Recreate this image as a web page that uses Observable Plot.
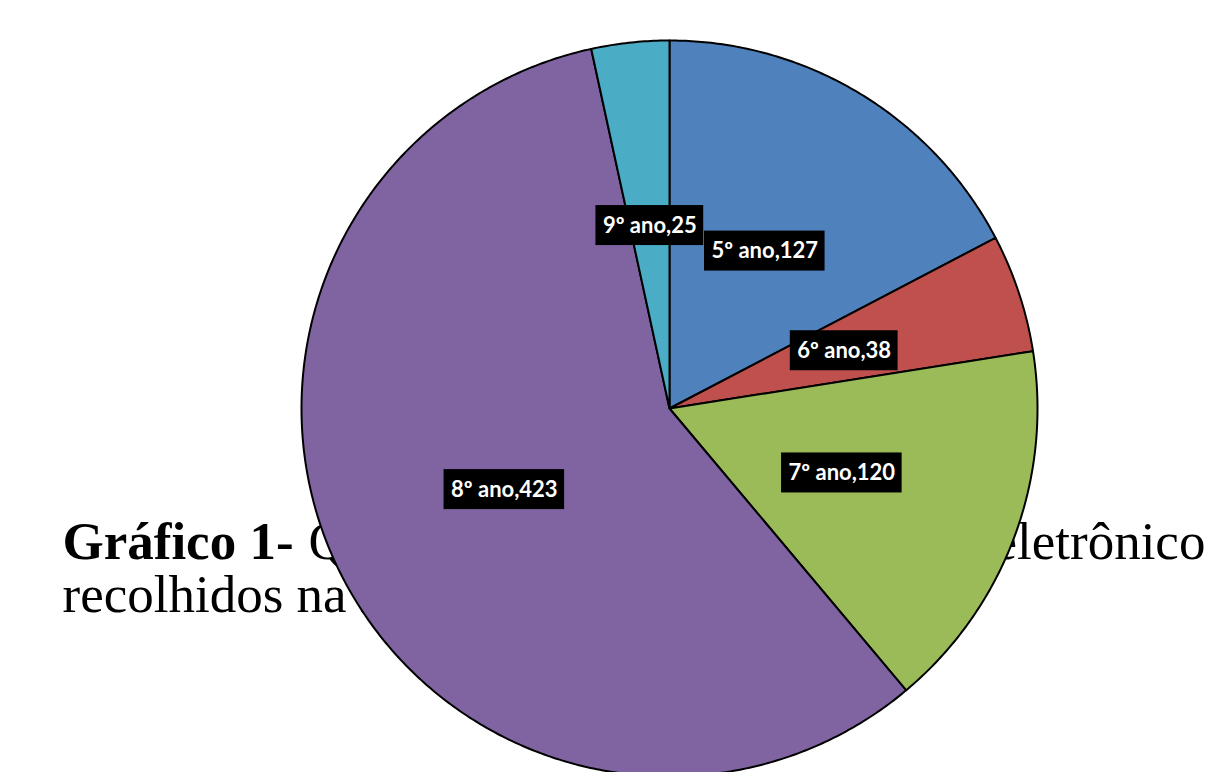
<!DOCTYPE html>
<html>
<head>
<meta charset="utf-8">
<script src="https://cdn.jsdelivr.net/npm/d3@7"></script>
<script src="https://cdn.jsdelivr.net/npm/@observablehq/plot@0.6"></script>
<style>
  html, body { margin: 0; padding: 0; background: #fff; overflow: hidden; }
  #chart svg { display: block; }
</style>
</head>
<body>
<div id="chart"></div>
<script>
// ---- data ----
const grades = ["5º ano", "6º ano", "7º ano", "8º ano", "9º ano"];
const counts = [127, 38, 120, 423, 25];
const sliceColors = ["#4F81BD", "#C0504D", "#9BBB59", "#8064A2", "#4BACC6"];
const titleBold = "Gráfico 1-";
const titleRest = "Quantidade de resíduos";
const titleRight = "eletrônicos";
const titleLine2 = "recolhidos na Escola";

// ---- geometry derived from data ----
const total = d3.sum(counts);
let cum = 0;
const slices = grades.map((g, i) => {
  const a0 = cum / total * 2 * Math.PI;
  cum += counts[i];
  const a1 = cum / total * 2 * Math.PI;
  return {grade: g, value: counts[i], a0, a1};
});
const polyRows = [];
for (const s of slices) {
  polyRows.push({grade: s.grade, x: 0, y: 0});
  const n = Math.max(2, Math.ceil((s.a1 - s.a0) / (Math.PI / 360)));
  for (let k = 0; k <= n; k++) {
    const a = s.a0 + (s.a1 - s.a0) * k / n;
    polyRows.push({grade: s.grade, x: Math.sin(a), y: Math.cos(a)});
  }
}
const labels = slices.map(s => {
  const m = (s.a0 + s.a1) / 2;
  return {label: `${s.grade},${s.value}`, x: 0.5 * Math.sin(m), y: 0.5 * Math.cos(m)};
});

const labelFont = "bold 22px Lato";
const ctx = document.createElement("canvas").getContext("2d");
ctx.font = labelFont;

const labelBoxes = labels.map(d => {
  const w = ctx.measureText(d.label).width + 14;
  return Plot.rect([d], {
    x1: "x", x2: "x", y1: "y", y2: "y", fill: "black",
    insetLeft: -w / 2, insetRight: -w / 2, insetTop: -20, insetBottom: -20
  });
});

const serif = "'Liberation Serif', 'Times New Roman', serif";
const chart = Plot.plot({
  width: 1206,
  height: 772,
  margin: 0,
  x: {domain: [-1, 1], range: [301, 1037], axis: null},
  y: {domain: [-1, 1], range: [776, 40], axis: null},
  color: {domain: grades, range: sliceColors},
  style: {background: "transparent"},
  marks: [
    Plot.text([titleBold], {text: d => d, frameAnchor: "top-left", dx: 62, dy: 558, textAnchor: "start", lineAnchor: "bottom", fontFamily: serif, fontSize: 53, fontWeight: "bold", fill: "black"}),
    Plot.text([titleRest], {text: d => d, frameAnchor: "top-left", dx: 308, dy: 558, textAnchor: "start", lineAnchor: "bottom", fontFamily: serif, fontSize: 53, fill: "black"}),
    Plot.text([titleRight], {text: d => d, frameAnchor: "top-left", dx: 993, dy: 558, textAnchor: "start", lineAnchor: "bottom", fontFamily: serif, fontSize: 53, fill: "black"}),
    Plot.text([titleLine2], {text: d => d, frameAnchor: "top-left", dx: 62, dy: 611, textAnchor: "start", lineAnchor: "bottom", fontFamily: serif, fontSize: 53, fill: "black"}),
    Plot.line(polyRows, {x: "x", y: "y", z: "grade", fill: "grade", stroke: "black", strokeWidth: 2, strokeLinejoin: "round", curve: "linear-closed"}),
    ...labelBoxes,
    Plot.text(labels, {x: "x", y: "y", text: "label", fill: "white", fontFamily: "Lato, sans-serif", fontWeight: "bold", fontSize: 22})
  ]
});
document.getElementById("chart").append(chart);
</script>
</body>
</html>
